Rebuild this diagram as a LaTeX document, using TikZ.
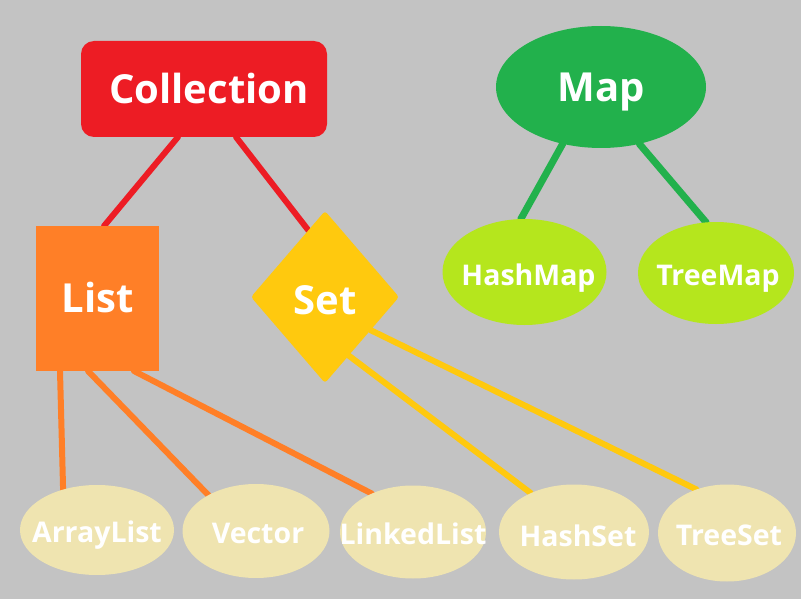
\documentclass[tikz,border=0pt]{standalone}
\usepackage{fontspec}
\setmainfont{Open Sans}
\usetikzlibrary{shapes.geometric,calc}
\definecolor{bgc}{HTML}{C3C3C3}
\definecolor{cred}{HTML}{ED1C24}
\definecolor{cgreen}{HTML}{22B14C}
\definecolor{clime}{HTML}{B5E61D}
\definecolor{corange}{HTML}{FF7F27}
\definecolor{cyellow}{HTML}{FFC90E}
\definecolor{cbeige}{HTML}{EFE4B0}
\pgfdeclarelayer{bglayer}
\pgfdeclarelayer{linelayer}
\pgfsetlayers{bglayer,linelayer,main}
\tikzset{
  big/.style={text=white,font=\bfseries\fontsize{40}{48}\selectfont,inner sep=0pt,text height=28.6pt,text depth=0pt},
  mid/.style={text=white,font=\bfseries\fontsize{28.5}{34}\selectfont,inner sep=0pt,text height=20.4pt,text depth=0pt},
  shapebox/.style={inner sep=0pt,outer sep=0pt},
  leaf/.style={shapebox,ellipse,fill=cbeige},
  conn/.style={line width=6pt,line cap=round},
}
\begin{document}
\begin{tikzpicture}[x=1pt,y=-1pt]
\begin{pgfonlayer}{bglayer}
\fill[bgc] (0,0) rectangle (801,599);
\end{pgfonlayer}
\useasboundingbox (0,0) rectangle (801,599);
% top level
\node[shapebox,fill=cred,rounded corners=13pt,minimum width=246pt,minimum height=96pt,
      label={[big,xshift=5pt]center:Collection}] (coll) at (204,89) {};
\node[shapebox,ellipse,fill=cgreen,minimum width=210pt,minimum height=122pt,
      label={[big]center:Map}] (map) at (601,87) {};
% second level
\node[shapebox,fill=corange,minimum width=123pt,minimum height=145pt,
      label={[big]center:List}] (list) at (97.5,298.5) {};
\node[shapebox,diamond,fill=cyellow,minimum width=148pt,minimum height=172pt,rounded corners=3pt,
      label={[big,yshift=-3pt]center:Set}] (set) at (325,297) {};
\node[shapebox,ellipse,fill=clime,minimum width=164pt,minimum height=106pt,
      label={[mid,yshift=-3pt,xshift=4pt]center:HashMap}] (hm) at (524.5,272) {};
\node[shapebox,ellipse,fill=clime,minimum width=156pt,minimum height=102pt,
      label={[mid,yshift=-2pt,xshift=2pt]center:TreeMap}] (tm) at (716,273) {};
% leaves
\node[leaf,minimum width=154pt,minimum height=90pt,
      label={[mid,yshift=-2pt]center:ArrayList}] (al) at (97,530) {};
\node[leaf,minimum width=147pt,minimum height=94pt,
      label={[mid,yshift=-2pt,xshift=2pt]center:Vector}] (vec) at (256,531) {};
\node[leaf,minimum width=146pt,minimum height=93pt,
      label={[mid,yshift=-2pt]center:LinkedList}] (ll) at (413,532) {};
\node[leaf,minimum width=150pt,minimum height=95pt,
      label={[mid,yshift=-4pt,xshift=4pt]center:HashSet}] (hs) at (574,532) {};
\node[leaf,minimum width=138pt,minimum height=97pt,
      label={[mid,yshift=-2pt,xshift=2pt]center:TreeSet}] (ts) at (727,533) {};
% connectors
\begin{pgfonlayer}{linelayer}
\draw[conn,cred] ([xshift=-26pt]coll.south) -- ([xshift=6.5pt]list.north);
\draw[conn,cred] ([xshift=32pt]coll.south) -- (set.104);
\draw[conn,cgreen,line width=7pt] (map.236) -- (hm.94);
\draw[conn,cgreen,line width=7pt] (map.-56) -- (tm.101);
\draw[conn,corange] ([xshift=-37.5pt]list.south) -- (al.130);
\draw[conn,corange] ([xshift=-9.5pt]list.south) -- (vec.143);
\draw[conn,corange] ([xshift=36.5pt]list.south) -- (ll.137);
\draw[conn,cyellow] (set.-68) -- (hs.138);
\draw[conn,cyellow] (set.-36) -- (ts.125);
\end{pgfonlayer}
\end{tikzpicture}
\end{document}
